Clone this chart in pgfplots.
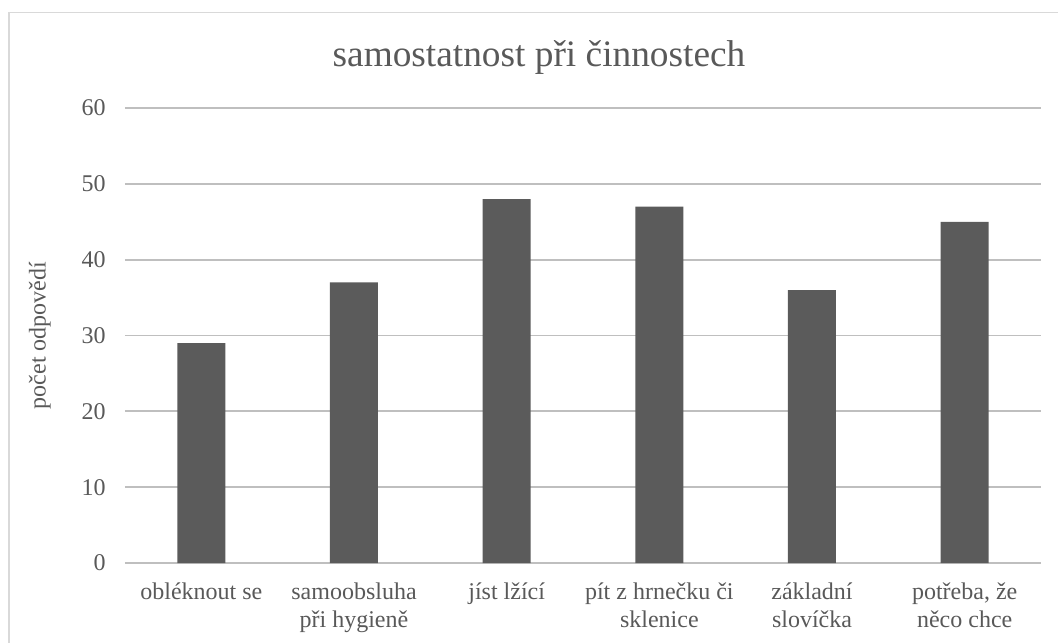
\documentclass[border=0pt]{standalone}
\usepackage{pgfplots}
\pgfplotsset{compat=1.18}
\usepackage{fontspec}
\setmainfont{Liberation Serif}
\definecolor{bar}{HTML}{5B5B5B}
\definecolor{txt}{HTML}{595959}
\definecolor{grid}{HTML}{D9D9D9}

\begin{document}
\begin{tikzpicture}
% reference pixels times 0.75pt
\path[use as bounding box] (0,0) rectangle (793.5pt,-482.25pt);
\draw[grid, line width=1.1pt] (6.75pt,-482.25pt) -- (6.75pt,-9.4pt) -- (793.5pt,-9.4pt);
\node[txt, font=\fontsize{28}{32}\selectfont] at (404.25pt,-42.75pt) {samostatnost při činnostech};
\begin{axis}[
  at={(93.75pt,-422.25pt)}, anchor=south west,
  scale only axis,
  width=687pt, height=341.25pt,
  ymin=0, ymax=60, ytick={0,10,...,60},
  xmin=-0.5, xmax=5.5,
  xtick=data,
  xticklabels={obléknout se, samoobsluha\\při hygieně, jíst lžící, pít z hrnečku či\\sklenice, základní\\slovíčka, {potřeba, že\\něco chce}},
  x tick label style={align=center, yshift=-11pt},
  y tick label style={xshift=-11pt},
  ymajorgrids, xmajorgrids=false,
  grid style={grid, line width=1.3pt},
  axis line style={draw=none},
  axis x line*=bottom,
  x axis line style={grid, line width=1.3pt},
  major tick length=0pt,
  tick label style={txt, font=\fontsize{18}{21}\selectfont},
  /pgf/number format/assume math mode=true,
  ylabel={počet odpovědí},
  ylabel style={at={(axis description cs:-0.093,0.5)}, anchor=center, txt, font=\fontsize{18}{21}\selectfont},
]
\addplot[ybar, bar width=36pt, fill=bar, draw=none] coordinates {
  (0,29) (1,37) (2,48) (3,47) (4,36) (5,45)
};
\end{axis}
\end{tikzpicture}
\end{document}
